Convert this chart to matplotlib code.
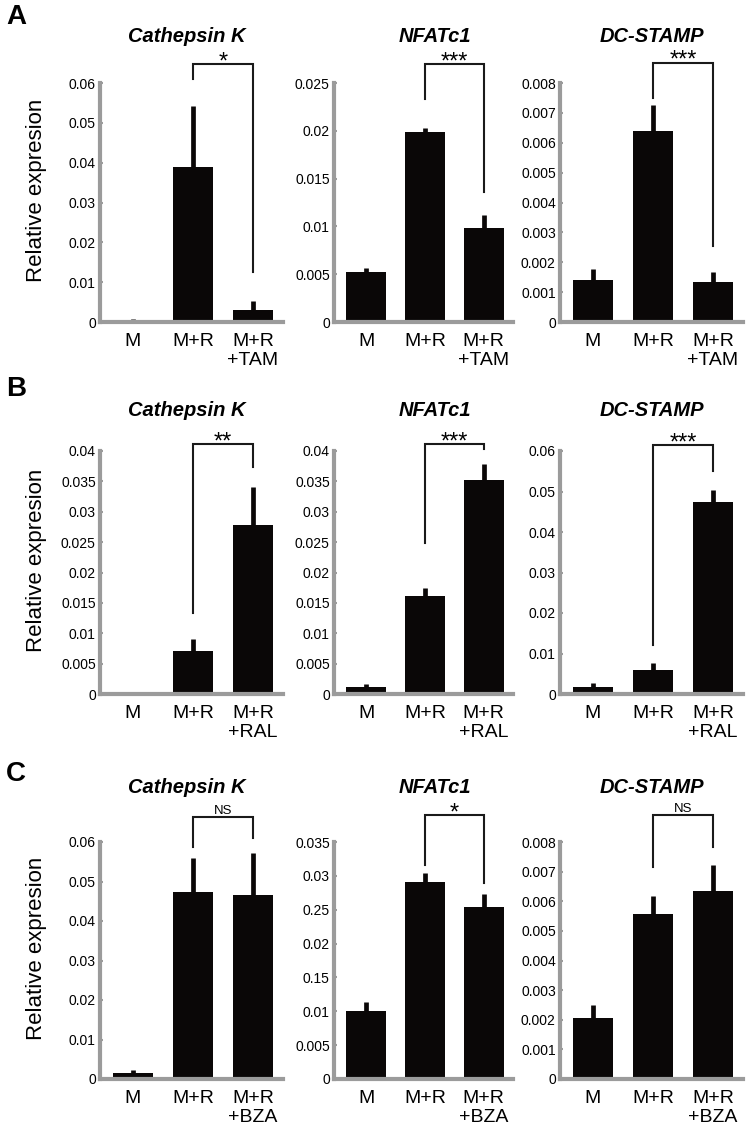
import matplotlib
matplotlib.use("Agg")
import matplotlib.pyplot as plt
import numpy as np

plt.rcParams['font.family'] = ['Liberation Sans', 'DejaVu Sans']

# ---- data ----
genes = ["Cathepsin K", "NFATc1", "DC-STAMP"]
panel_letters = ["A", "B", "C"]

groups_a = ["M", "M+R", "M+R\n+TAM"]
groups_b = ["M", "M+R", "M+R\n+RAL"]
groups_c = ["M", "M+R", "M+R\n+BZA"]

# row A (tamoxifen)
ctsk_a = [0.0001, 0.0389, 0.0030]
ctsk_a_err = [0.0006, 0.0153, 0.0022]
nfat_a = [0.0052, 0.0199, 0.0098]
nfat_a_err = [0.0005, 0.0004, 0.0014]
dcst_a = [0.00140, 0.00640, 0.00133]
dcst_a_err = [0.00038, 0.00085, 0.00035]

# row B (raloxifene)
ctsk_b = [0.0001, 0.0071, 0.0279]
ctsk_b_err = [0.0003, 0.0019, 0.0062]
nfat_b = [0.0011, 0.0162, 0.0352]
nfat_b_err = [0.0006, 0.0013, 0.0026]
dcst_b = [0.0018, 0.0059, 0.0474]
dcst_b_err = [0.0009, 0.0018, 0.0030]

# row C (bazedoxifene)
ctsk_c = [0.0015, 0.0474, 0.0466]
ctsk_c_err = [0.0009, 0.0086, 0.0105]
nfat_c = [0.0101, 0.0291, 0.0254]
nfat_c_err = [0.0013, 0.0013, 0.0019]
dcst_c = [0.00205, 0.00558, 0.00636]
dcst_c_err = [0.00044, 0.00060, 0.00086]

# y tick labels as printed (the NFATc1 panel in C has typos in the original)
ticks_ctsk_a = ["0", "0.01", "0.02", "0.03", "0.04", "0.05", "0.06"]
ticks_nfat_a = ["0", "0.005", "0.01", "0.015", "0.02", "0.025"]
ticks_dcst_a = ["0", "0.001", "0.002", "0.003", "0.004", "0.005", "0.006", "0.007", "0.008"]
ticks_ctsk_b = ["0", "0.005", "0.01", "0.015", "0.02", "0.025", "0.03", "0.035", "0.04"]
ticks_nfat_b = ["0", "0.005", "0.01", "0.015", "0.02", "0.025", "0.03", "0.035", "0.04"]
ticks_dcst_b = ["0", "0.01", "0.02", "0.03", "0.04", "0.05", "0.06"]
ticks_ctsk_c = ["0", "0.01", "0.02", "0.03", "0.04", "0.05", "0.06"]
ticks_nfat_c = ["0", "0.005", "0.01", "0.15", "0.02", "0.25", "0.03", "0.035"]
ticks_dcst_c = ["0", "0.001", "0.002", "0.003", "0.004", "0.005", "0.006", "0.007", "0.008"]
ymax_a = [0.06, 0.025, 0.008]
ymax_b = [0.04, 0.04, 0.06]
ymax_c = [0.06, 0.035, 0.008]

# significance brackets: (bar level, M+R leg end, treated leg end, mark)
sig_a = [(0.0648, 0.0610, 0.0125, "*"), (0.0270, 0.0233, 0.0136, "***"),
         (0.00868, 0.00749, 0.00253, "***")]
sig_b = [(0.0411, 0.0134, 0.0374, "**"), (0.0411, 0.0248, 0.0403, "***"),
         (0.0615, 0.0122, 0.0551, "***")]
sig_c = [(0.0663, 0.0587, 0.0610, "NS"), (0.0390, 0.0316, 0.0290, "*"),
         (0.00890, 0.00716, 0.00783, "NS")]

rows = [
    (groups_a, [ctsk_a, nfat_a, dcst_a], [ctsk_a_err, nfat_a_err, dcst_a_err],
     [ticks_ctsk_a, ticks_nfat_a, ticks_dcst_a], ymax_a, sig_a),
    (groups_b, [ctsk_b, nfat_b, dcst_b], [ctsk_b_err, nfat_b_err, dcst_b_err],
     [ticks_ctsk_b, ticks_nfat_b, ticks_dcst_b], ymax_b, sig_b),
    (groups_c, [ctsk_c, nfat_c, dcst_c], [ctsk_c_err, nfat_c_err, dcst_c_err],
     [ticks_ctsk_c, ticks_nfat_c, ticks_dcst_c], ymax_c, sig_c),
]

# ---- layout (pixels) ----
W, H = 750, 1131
col_px = [(100, 283), (334, 513), (560, 743)]
row_px = [(83, 322), (451, 694), (842, 1079)]
title_x = [187, 435, 652]
title_base = [42, 416, 793]
letter_top = [4, 376, 761]
grey = "#9b9b9b"

fig = plt.figure(figsize=(W / 100, H / 100), dpi=100)

for r, (groups, vals, errs, ticklabels, ymaxes, sigs) in enumerate(rows):
    y0, y1 = row_px[r]
    fig.text(6 / W, 1 - letter_top[r] / H, panel_letters[r], fontsize=20,
             fontweight="bold", va="top", ha="left")
    fig.text(37 / W, 1 - ((y0 + y1) / 2 - 12) / H, "Relative expresion",
             rotation=90, fontsize=16, ha="center", va="center")
    for c in range(3):
        x0, x1 = col_px[c]
        ax = fig.add_axes([x0 / W, 1 - y1 / H, (x1 - x0) / W, (y1 - y0) / H])
        x = np.arange(len(groups))
        ax.bar(x, vals[c], width=0.68, color="#0a0707",
               yerr=[np.zeros(len(x)), errs[c]],
               error_kw=dict(elinewidth=3.4, ecolor="#0a0707", capsize=0),
               zorder=2)
        ax.set_xlim(-0.55, 2.5)
        ax.set_ylim(0, ymaxes[c])
        ax.set_yticks(np.linspace(0, ymaxes[c], len(ticklabels[c])))
        ax.set_yticklabels(ticklabels[c])
        ax.set_xticks(x)
        ax.set_xticklabels(groups, linespacing=1.15)
        for side in ["top", "right"]:
            ax.spines[side].set_visible(False)
        for side in ["left", "bottom"]:
            ax.spines[side].set_color(grey)
            ax.spines[side].set_linewidth(3)
            ax.spines[side].set_zorder(3)
        ax.tick_params(axis="y", length=2.5, width=1.5, color=grey,
                       direction="in", pad=3, labelsize=10)
        ax.tick_params(axis="x", length=0, pad=8, labelsize=14)

        top, left_end, right_end, mark = sigs[c]
        ax.plot([1, 1, 2, 2], [left_end, top, top, right_end], color="#1a1a1a",
                lw=1.5, clip_on=False, solid_joinstyle="miter")
        if mark == "NS":
            ax.annotate(mark, xy=(1.5, top), xytext=(0, 2.5),
                        textcoords="offset points", ha="center",
                        va="baseline", fontsize=9.5, annotation_clip=False)
        else:
            ax.annotate(mark, xy=(1.5, top), xytext=(0, -3),
                        textcoords="offset points", ha="center",
                        va="baseline", fontsize=17, annotation_clip=False)

        fig.text(title_x[c] / W, 1 - title_base[r] / H, genes[c], fontsize=14.5,
                 fontweight="bold", fontstyle="italic", ha="center",
                 va="baseline")

fig.savefig("out.png", dpi=100)
